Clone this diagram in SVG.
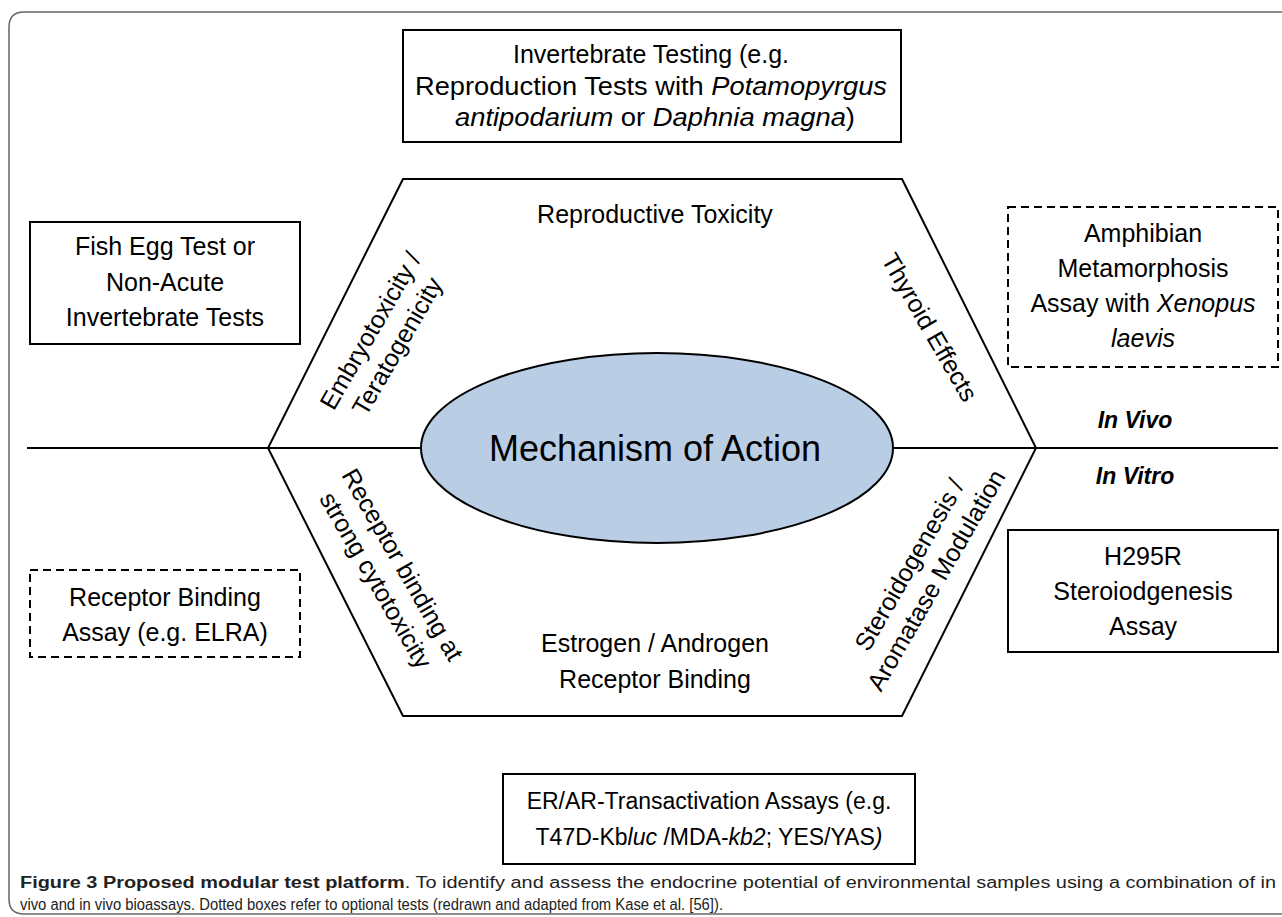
<svg xmlns="http://www.w3.org/2000/svg" width="1282" height="917" viewBox="0 0 1282 917">
<style>
  .t { font-family: "Liberation Sans", Arial, sans-serif; font-size: 25px; fill: #000; text-anchor: middle; }
  .box { fill: #fff; stroke: #000; stroke-width: 2; }
  .dash { fill: #fff; stroke: #000; stroke-width: 2; stroke-dasharray: 8 5; }
  .vv { font-family: "Liberation Sans", Arial, sans-serif; font-size: 23px; font-weight: bold; font-style: italic; text-anchor: middle; }
  .cap { font-family: "Liberation Sans", Arial, sans-serif; font-size: 16px; fill: #222; }
</style>
<rect width="1282" height="917" fill="#fff"/>
<path d="M1290 12 H24 Q9 12 9 27 V899 Q9 914 24 914 H1290" fill="none" stroke="#666" stroke-width="1.5"/>

<g id="connectors">
  <line x1="27" y1="448" x2="1278" y2="448" stroke="#000" stroke-width="2"/>
</g>

<g id="hexagon">
  <polygon points="403,179 902,179 1036,448 902,716 403,716 268,448" fill="none" stroke="#000" stroke-width="2"/>
  <text class="t" x="655" y="223">Reproductive Toxicity</text>
  <text class="t" x="655" y="652">Estrogen / Androgen</text>
  <text class="t" x="655" y="688">Receptor Binding</text>
  <g transform="translate(383,338) rotate(-60)">
    <text class="t" x="0" y="-6">Embryotoxicity /</text>
    <text class="t" x="0" y="25">Teratogenicity</text>
  </g>
  <g transform="translate(930,327) rotate(60)">
    <text class="t" x="0" y="9">Thyroid Effects</text>
  </g>
  <g transform="translate(390,572) rotate(60)">
    <text class="t" x="0" y="-6">Receptor binding at</text>
    <text class="t" x="0" y="25">strong cytotoxicity</text>
  </g>
  <g transform="translate(922,572) rotate(-60)">
    <text class="t" x="0" y="-6">Steroidogenesis /</text>
    <text class="t" x="0" y="25">Aromatase Modulation</text>
  </g>
</g>

<g id="mechanism">
  <ellipse cx="657" cy="448" rx="236" ry="95" fill="#b9cde5" stroke="#000" stroke-width="2"/>
  <text class="t" x="655" y="461" style="font-size:36px">Mechanism of Action</text>
</g>

<g id="invertebrate">
  <rect class="box" x="403" y="30" width="498" height="112"/>
  <text class="t" x="651" y="63">Invertebrate Testing (e.g.</text>
  <text class="t" x="651" y="95" textLength="472" lengthAdjust="spacingAndGlyphs">Reproduction Tests with <tspan font-style="italic">Potamopyrgus</tspan></text>
  <text class="t" x="655" y="126" textLength="400" lengthAdjust="spacingAndGlyphs"><tspan font-style="italic">antipodarium</tspan> or <tspan font-style="italic">Daphnia magna</tspan>)</text>
</g>

<g id="fishegg">
  <rect class="box" x="30" y="222" width="270" height="122"/>
  <text class="t" x="165" y="255">Fish Egg Test or</text>
  <text class="t" x="165" y="291">Non-Acute</text>
  <text class="t" x="165" y="326">Invertebrate Tests</text>
</g>

<g id="amphibian">
  <rect class="dash" x="1008" y="207" width="270" height="160"/>
  <text class="t" x="1143" y="242">Amphibian</text>
  <text class="t" x="1143" y="277">Metamorphosis</text>
  <text class="t" x="1143" y="312">Assay with <tspan font-style="italic">Xenopus</tspan></text>
  <text class="t" x="1143" y="347" font-style="italic">laevis</text>
</g>

<g id="invivo">
  <text class="vv" x="1135" y="428">In Vivo</text>
  <text class="vv" x="1135" y="484">In Vitro</text>
</g>

<g id="receptorbinding">
  <rect class="dash" x="30" y="570" width="270" height="87"/>
  <text class="t" x="165" y="606">Receptor Binding</text>
  <text class="t" x="165" y="641">Assay (e.g. ELRA)</text>
</g>

<g id="h295r">
  <rect class="box" x="1008" y="530" width="270" height="122"/>
  <text class="t" x="1143" y="565">H295R</text>
  <text class="t" x="1143" y="600">Steroiodgenesis</text>
  <text class="t" x="1143" y="635">Assay</text>
</g>

<g id="transactivation">
  <rect class="box" x="503" y="774" width="412" height="90"/>
  <text class="t" x="709" y="809" style="font-size:23px">ER/AR-Transactivation Assays (e.g.</text>
  <text class="t" x="709" y="845" style="font-size:23px">T47D-Kb<tspan font-style="italic">luc</tspan> /MDA-<tspan font-style="italic">kb2</tspan>; YES/YAS<tspan font-style="italic">)</tspan></text>
</g>

<g id="caption">
  <text class="cap" x="20" y="888" textLength="1256" lengthAdjust="spacingAndGlyphs"><tspan font-weight="bold">Figure 3 Proposed modular test platform</tspan>. To identify and assess the endocrine potential of environmental samples using a combination of in</text>
  <text class="cap" x="20" y="910" textLength="703" lengthAdjust="spacingAndGlyphs">vivo and in vivo bioassays. Dotted boxes refer to optional tests (redrawn and adapted from Kase et al. [56]).</text>
</g>
</svg>
